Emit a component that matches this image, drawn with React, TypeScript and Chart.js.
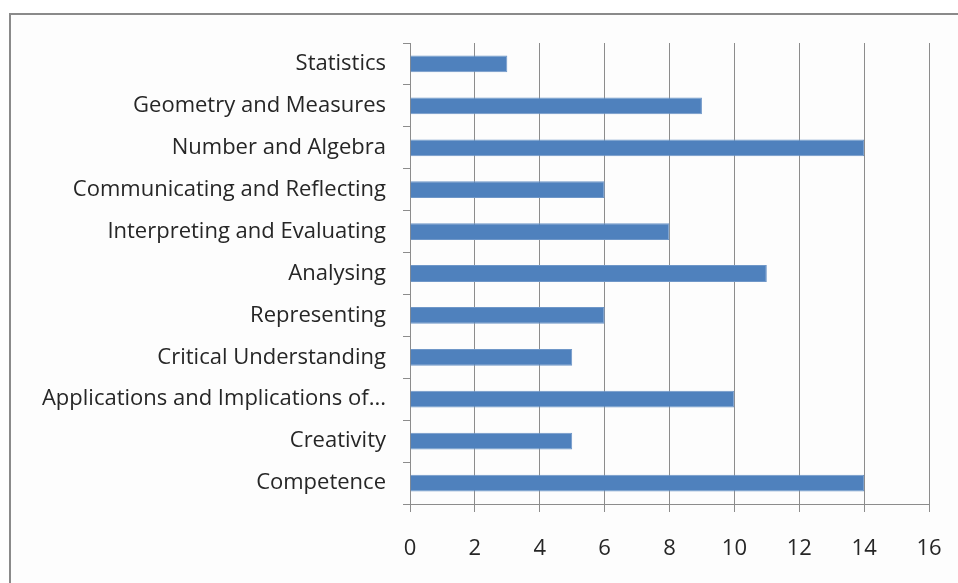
import React, { useEffect, useRef } from "react";
import { Chart, registerables } from "chart.js";

Chart.register(...registerables);

const categories = [
  "Statistics",
  "Geometry and Measures",
  "Number and Algebra",
  "Communicating and Reflecting",
  "Interpreting and Evaluating",
  "Analysing",
  "Representing",
  "Critical Understanding",
  "Applications and Implications of...",
  "Creativity",
  "Competence",
];
const values = [3, 9, 14, 6, 8, 11, 6, 5, 10, 5, 14];
const xTicks = [0, 2, 4, 6, 8, 10, 12, 14, 16];

const FONT = "'Open Sans', Lato, sans-serif";
const GRID = "#8c8c8c";

export default function App() {
  const ref = useRef<HTMLCanvasElement | null>(null);

  useEffect(() => {
    const canvas = ref.current;
    if (!canvas) return;
    const chart = new Chart(canvas, {
      type: "bar",
      data: {
        labels: categories,
        datasets: [
          {
            data: values,
            backgroundColor: "#4f81bd",
            borderColor: "#6f97c8",
            borderWidth: 1,
            barPercentage: 0.4,
            categoryPercentage: 1,
          },
        ],
      },
      options: {
        indexAxis: "y",
        animation: false,
        responsive: false,
        maintainAspectRatio: false,
        layout: { padding: { top: 43, right: 29, bottom: 0, left: 0 } },
        plugins: { legend: { display: false }, tooltip: { enabled: false } },
        scales: {
          x: {
            min: 0,
            max: 16,
            afterBuildTicks: (scale: any) => {
              scale.ticks = xTicks.map((v) => ({ value: v }));
            },
            afterFit: (scale: any) => {
              scale.height = 79;
              scale.paddingLeft = 0;
              scale.paddingRight = 0;
            },
            grid: {
              color: GRID,
              lineWidth: 1,
              drawTicks: true,
              tickLength: 8,
            },
            border: { color: GRID, width: 1 },
            ticks: {
              color: "#262626",
              font: { family: FONT, size: 22 },
              padding: 24,
            },
          },
          y: {
            afterFit: (scale: any) => {
              scale.width = 410;
              scale.paddingTop = 0;
              scale.paddingBottom = 0;
            },
            grid: {
              offset: true,
              drawOnChartArea: false,
              drawTicks: true,
              tickLength: 7,
              color: GRID,
            },
            border: { color: GRID, width: 1 },
            ticks: {
              color: "#262626",
              font: { family: FONT, size: 22 },
              padding: 17,
              autoSkip: false,
            },
          },
        },
      },
    });
    return () => chart.destroy();
  }, []);

  return (
    <div
      style={{
        position: "fixed",
        left: 0,
        top: 0,
        width: 958,
        height: 583,
        overflow: "hidden",
        background: "#ffffff",
      }}
    >
      <div
        style={{
          position: "absolute",
          left: 9,
          top: 13,
          width: 1000,
          height: 700,
          border: "2px solid #8a8a8a",
          background: "#fdfdfd",
        }}
      />
      <canvas
        ref={ref}
        width={958}
        height={583}
        style={{ position: "absolute", left: 0, top: 0, width: 958, height: 583 }}
      />
    </div>
  );
}
